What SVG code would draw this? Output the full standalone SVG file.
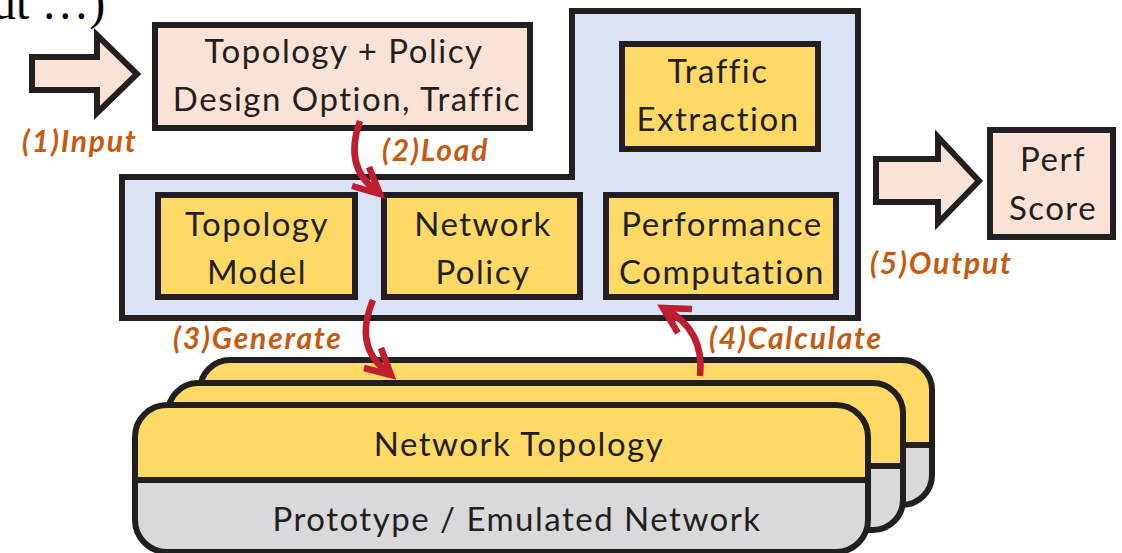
<svg xmlns="http://www.w3.org/2000/svg" width="1122" height="553" viewBox="0 0 1122 553">
<style>
.box{stroke:#231F20;stroke-width:6;stroke-linejoin:miter}
.peach{fill:#FAE3D6}
.blue{fill:#DAE3F3}
.yel{fill:#FFD966}
.grey{fill:#D9D9DB}
.t{font-family:Lato,"Open Sans",sans-serif;font-size:33px;letter-spacing:1.5px;fill:#231F20;text-anchor:middle}
.lbl{font-family:Lato,"Open Sans",sans-serif;font-size:30px;letter-spacing:1.8px;font-weight:bold;font-style:italic;fill:#C55A11}
.red{fill:none;stroke:#BE1E2D;stroke-width:6.5;stroke-linecap:butt}
.head{fill:none;stroke:#BE1E2D;stroke-width:6.5;stroke-linejoin:miter}
</style>
<text x="-8" y="19" font-family="Liberation Serif,serif" font-size="48" fill="#000">ut …)</text>

<g id="input-arrow"><polygon class="box peach" points="32,57 97,57 97,35 137,74 97,113 97,90 32,90"/></g>
<g id="input-box">
<rect class="box peach" x="155" y="25" width="375" height="103"/>
<text class="t" x="344" y="63">Topology + Policy</text>
<text class="t" x="347" y="111">Design Option, Traffic</text>
</g>

<g id="container"><polygon class="box blue" points="122,177 572,177 572,11 858,11 858,318 122,318"/></g>
<g id="traffic-extraction">
<rect class="box yel" x="622" y="44" width="196" height="105"/>
<text class="t" x="718" y="83">Traffic</text>
<text class="t" x="718" y="131">Extraction</text>
</g>
<g id="topology-model">
<rect class="box yel" x="158" y="195" width="197" height="102"/>
<text class="t" x="257" y="236">Topology</text>
<text class="t" x="257" y="284">Model</text>
</g>
<g id="network-policy">
<rect class="box yel" x="384" y="195" width="196" height="102"/>
<text class="t" x="483" y="236">Network</text>
<text class="t" x="483" y="284">Policy</text>
</g>
<g id="performance-computation">
<rect class="box yel" x="606" y="195" width="230" height="102"/>
<text class="t" x="722" y="236">Performance</text>
<text class="t" x="722" y="284">Computation</text>
</g>

<g id="output-arrow"><polygon class="box peach" points="876,159 938,159 938,137 979,181 938,223 938,202 876,202"/></g>
<g id="perf-score">
<rect class="box peach" x="990" y="130" width="123" height="107"/>
<text class="t" x="1053" y="171">Perf</text>
<text class="t" x="1053" y="220">Score</text>
</g>

<g id="layer-back">
<path class="box yel" d="M200,445 V390 A30,30 0 0 1 230,360 H902 A30,30 0 0 1 932,390 V445 Z"/>
<path class="box grey" d="M200,445 H932 V475 A30,30 0 0 1 902,505 H230 A30,30 0 0 1 200,475 Z"/>
</g>
<g id="layer-middle">
<path class="box yel" d="M168,466 V413 A30,30 0 0 1 198,383 H873 A30,30 0 0 1 903,413 V466 Z"/>
<path class="box grey" d="M168,466 H903 V500 A30,30 0 0 1 873,530 H198 A30,30 0 0 1 168,500 Z"/>
</g>
<g id="layer-front">
<path class="box yel" d="M135,480 V437 A32,32 0 0 1 167,405 H836 A32,32 0 0 1 868,437 V480 Z"/>
<path class="box grey" d="M135,480 H868 V520 A32,32 0 0 1 836,552 H167 A32,32 0 0 1 135,520 Z"/>
<text class="t" x="519" y="456">Network Topology</text>
<text class="t" x="517" y="531">Prototype / Emulated Network</text>
</g>

<g id="connectors">
<path class="red" d="M360,121 Q343,168 378,192"/>
<polyline class="head" points="352,186 380,194 369,167"/>
<path class="red" d="M373,300 Q353,348 389,373"/>
<polyline class="head" points="364,368 391,375 381,348"/>
<path class="red" d="M700,376 Q705,330 665,309"/>
<polyline class="head" points="692,309 663,308 678,333"/>
</g>

<g id="labels">
<text class="lbl" x="22" y="152">(1)Input</text>
<text class="lbl" x="382" y="161">(2)Load</text>
<text class="lbl" x="173" y="349">(3)Generate</text>
<text class="lbl" x="709" y="349">(4)Calculate</text>
<text class="lbl" x="870" y="274">(5)Output</text>
</g>
</svg>
